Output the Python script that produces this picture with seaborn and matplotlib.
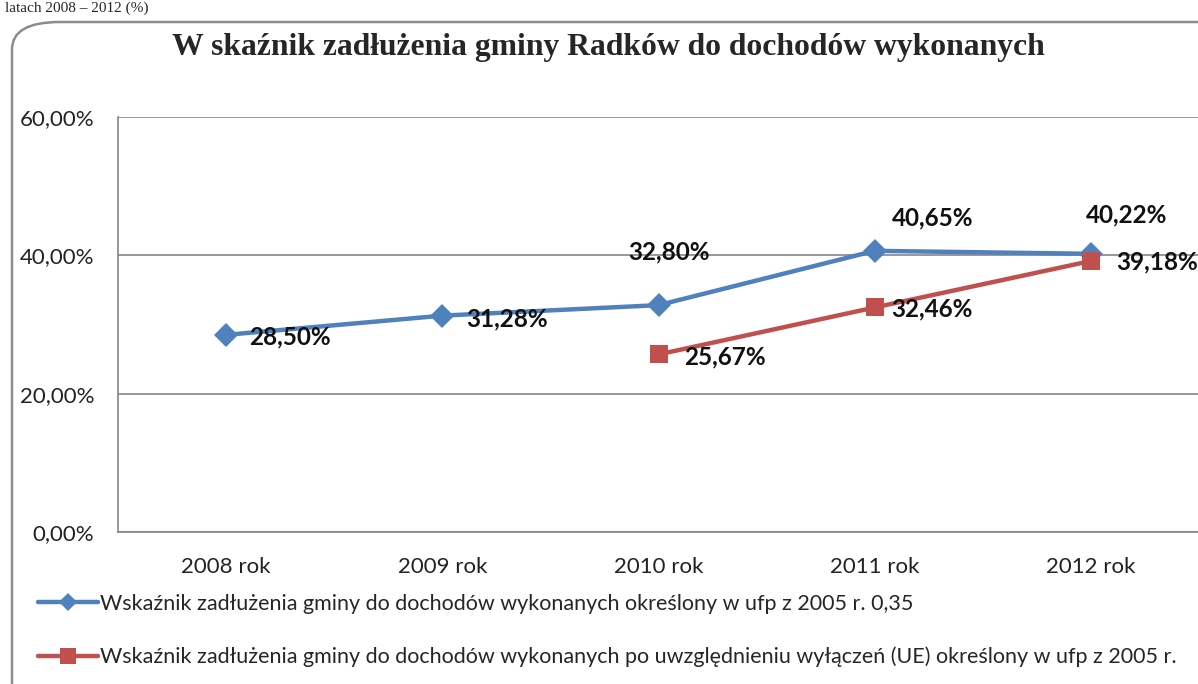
import matplotlib
matplotlib.use("Agg")
import matplotlib.pyplot as plt
import seaborn as sns
import pandas as pd
import numpy as np
from matplotlib.patches import FancyBboxPatch
from matplotlib.lines import Line2D

years = ["2008 rok", "2009 rok", "2010 rok", "2011 rok", "2012 rok"]
series_a = [28.50, 31.28, 32.80, 40.65, 40.22]
series_b = [np.nan, np.nan, 25.67, 32.46, 39.18]
name_a = "Wskaźnik zadłużenia gminy do dochodów wykonanych określony w ufp z 2005 r. 0,35"
name_b = "Wskaźnik zadłużenia gminy do dochodów wykonanych po uwzględnieniu wyłączeń (UE) określony w ufp z 2005 r."
title = "W skaźnik zadłużenia gminy Radków do dochodów wykonanych"
yticks = [0, 20, 40, 60]

# label offsets in pixels (dx, dy, ha) relative to point
off_a = [(23, -2, "left"), (24, -3, "left"), (10, 53, "center"), (58, 33, "center"), (36, 39, "center")]
off_b = [None, None, (26, -2, "left"), (17, -1, "left"), (25, -1, "left")]

df = pd.DataFrame({
    "rok": years * 2,
    "val": series_a + series_b,
    "seria": [name_a] * 5 + [name_b] * 5,
}).dropna()

blue = "#4F81BD"
red = "#C0504D"

sns.set_theme(style="white")
plt.rcParams['font.family'] = ['Lato', 'DejaVu Sans']

fig = plt.figure(figsize=(11.98, 6.84), dpi=100)
W, H = 1198, 684
ax = fig.add_axes([118 / W, 152 / H, 1081 / W, 415 / H])

sns.lineplot(data=df, x="rok", y="val", hue="seria", style="seria",
             palette=[blue, red], markers=["D", "s"], dashes=False,
             linewidth=3.2, markersize=12, markeredgewidth=0,
             sort=False, ax=ax, legend=False)

ax.set_xlim(-0.5, 4.5)
ax.set_ylim(0, 60)
ax.set_yticks(yticks)
ax.set_yticklabels([f"{v:.2f}%".replace(".", ",") for v in yticks])
ax.set_xlabel("")
ax.set_ylabel("")
ax.grid(axis="y", color="#868686", linewidth=1.2)
ax.set_axisbelow(True)
for s in ["top", "right"]:
    ax.spines[s].set_visible(False)
for s in ["left", "bottom"]:
    ax.spines[s].set_color("#868686")
    ax.spines[s].set_linewidth(1.2)
ax.tick_params(axis="y", length=0, pad=17, labelsize=16, labelcolor="#222222")
ax.tick_params(axis="x", length=0, pad=18, labelsize=16, labelcolor="#222222")

for line in ax.get_lines():
    if line.get_marker() == "s":
        line.set_markersize(13)

def fmt(v):
    return f"{v:.2f}%".replace(".", ",")

for vals, offs in [(series_a, off_a), (series_b, off_b)]:
    for i, v in enumerate(vals):
        if offs[i] is None or np.isnan(v):
            continue
        dx, dy, ha = offs[i]
        ax.annotate(fmt(v), (i, v), xytext=(dx * 0.72, dy * 0.72), textcoords="offset points",
                    ha=ha, va="center", fontsize=17.5, fontweight="bold", color="#111111")

fig.text(608 / W, 1 - 48 / H, title, ha="center", va="center",
         family=["Liberation Serif", "DejaVu Serif"], fontweight="bold", fontsize=22.8)

fig.text(5 / W, 1 - 12 / H, "latach 2008 – 2012 (%)", ha="left", va="baseline",
         family=["Liberation Serif", "DejaVu Serif"], fontsize=11)

# outer rounded frame
frame = FancyBboxPatch((12 / W, -0.05), 1.2, (1 - 22 / H) + 0.05,
                       boxstyle="round,pad=0,rounding_size=0.04",
                       transform=fig.transFigure, fill=False,
                       edgecolor="#8c8c8c", linewidth=1.8, clip_on=False)
fig.patches.append(frame)

handles = [
    Line2D([], [], color=blue, lw=3.2, marker="D", markersize=9, markeredgewidth=0),
    Line2D([], [], color=red, lw=3.2, marker="s", markersize=11, markeredgewidth=0),
]
for h, lab, y in zip(handles, [name_a, name_b], [604, 657]):
    fig.legend([h], [lab], loc="center left", bbox_to_anchor=(38 / W, 1 - y / H),
               frameon=False, fontsize=15.5, handlelength=2.8, handletextpad=0.1,
               borderpad=0, borderaxespad=0)

fig.savefig("out.png", dpi=100)
